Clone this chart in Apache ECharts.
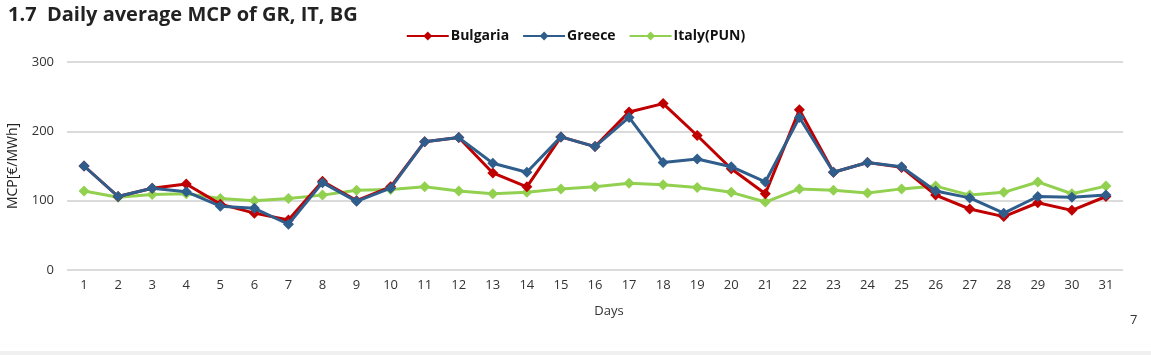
<!DOCTYPE html>
<html><head><meta charset="utf-8">
<script src="https://cdn.jsdelivr.net/npm/echarts@6/dist/echarts.min.js"></script>
<style>html,body{margin:0;padding:0;background:#fff}#c{width:1151px;height:355px}</style>
</head><body><div id="c"></div>
<script>
const days = ['1','2','3','4','5','6','7','8','9','10','11','12','13','14','15','16','17','18','19','20','21','22','23','24','25','26','27','28','29','30','31'];
const bulgaria = [150,106,118,124,95,82,72,128,100,120,185,191,140,120,192,178,228,240,194,146,110,231,141,155,148,108,88,77,97,86,106];
const greece = [150,106,118,113,92,89,66,126,99,118,185,191,154,141,192,178,220,155,160,149,127,220,141,155,149,114,104,82,106,105,108];
const italy = [114,105,109,110,103,100,103,108,115,116,120,114,110,112,117,120,125,123,119,112,98,117,115,111,117,121,108,112,127,110,121];
const yTicks = [0,100,200,300];

const chart = echarts.init(document.getElementById('c'), null, {renderer:'canvas'});
const FONT = 'Open Sans';
function mk(name, data, color){
  return {name, type:'line', data, symbol:'diamond', symbolSize:11,
    lineStyle:{color, width:3}, itemStyle:{color}, z: name==='Italy(PUN)'?1:(name==='Greece'?3:2)};
}
chart.setOption({
  animation:false,
  textStyle:{fontFamily:FONT},
  title:{text:'1.7  Daily average MCP of GR, IT, BG', left:3, top:0,
    textStyle:{fontFamily:FONT, fontSize:20, fontWeight:'bold', color:'#222'}},
  legend:{top:24, left:'center', itemWidth:42, itemHeight:11, itemGap:13,
    textStyle:{fontFamily:FONT, fontSize:14, fontWeight:'bold', color:'#111', padding:[0,0,0,-3]},
    data:['Bulgaria','Greece','Italy(PUN)']},
  grid:{left:67, right:28, top:62, bottom:85, outerBoundsMode:'none', containLabel:false},
  xAxis:{type:'category', data:days, boundaryGap:true, name:'Days', nameLocation:'middle', nameGap:35,
    nameTextStyle:{fontFamily:FONT, fontSize:13, color:'#333', padding:[0,0,0,28]},
    axisLine:{show:false}, axisTick:{show:false},
    axisLabel:{fontFamily:FONT, fontSize:13, color:'#333', margin:9}},
  yAxis:{type:'value', min:0, max:300, interval:100, name:'MCP[€/MWh]', nameLocation:'middle', nameGap:47,
    nameTextStyle:{fontFamily:FONT, fontSize:14, color:'#222'},
    axisLine:{show:false}, axisTick:{show:false},
    axisLabel:{fontFamily:FONT, fontSize:13, color:'#333', margin:13},
    splitLine:{lineStyle:{color:'#cfcfcf', width:1.5}}},
  series:[mk('Bulgaria', bulgaria, '#C00000'), mk('Greece', greece, '#2F5D8C'), mk('Italy(PUN)', italy, '#92D050')],
  graphic:[
    {type:'text', left:1130, top:314, style:{text:'7', font:'13px "Open Sans"', fill:'#333'}},
    {type:'rect', left:0, top:351, shape:{width:1151, height:4}, style:{fill:'#f0f0f0'}}
  ]
});
</script></body></html>
